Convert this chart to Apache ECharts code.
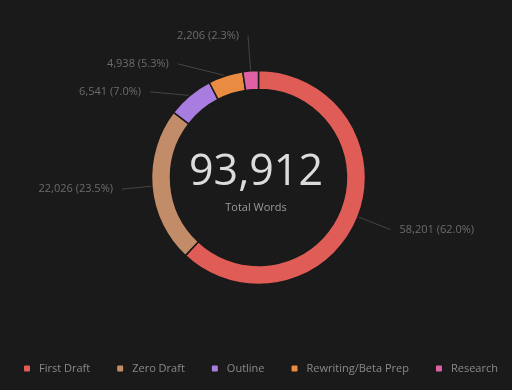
<!DOCTYPE html>
<html><head><meta charset="utf-8">
<script src="https://cdn.jsdelivr.net/npm/echarts@6/dist/echarts.min.js"></script>
<style>html,body{margin:0;padding:0;background:#1a1a1a;}#c{width:512px;height:390px;}</style>
</head><body><div id="c"></div>
<script>
const categories = ["First Draft", "Zero Draft", "Outline", "Rewriting/Beta Prep", "Research"];
const values = [58201, 22026, 6541, 4938, 2206];
const colors = ["#e05c57", "#c28c68", "#a97ddf", "#ea8b42", "#e060a6"];
const totalLabel = "93,912";
const subLabel = "Total Words";
const total = values.reduce((a, b) => a + b, 0);
const chart = echarts.init(document.getElementById('c'));
chart.setOption({
  backgroundColor: '#1a1a1a',
  color: colors,
  graphic: [
    {type: 'text', left: 'center', top: 151, style: {text: totalLabel, fill: '#dcdcdc', fontSize: 43, fontWeight: 500, fontFamily: 'Open Sans'}},
    {type: 'text', left: 'center', top: 202, style: {text: subLabel, fill: '#9a9a9a', fontSize: 11, fontFamily: 'Open Sans'}}
  ],
  legend: {
    bottom: 11, left: 17, itemWidth: 8, itemHeight: 8, itemGap: 25, icon: 'roundRect',
    textStyle: {color: '#8a8a8a', fontSize: 11, fontFamily: 'Open Sans', padding: [0, 0, 0, 3]},
    data: categories
  },
  series: [{
    type: 'pie', radius: [88, 107], center: [258.5, 177.5], startAngle: 90,
    avoidLabelOverlap: true,
    itemStyle: {borderColor: '#1a1a1a', borderWidth: 1.5},
    label: {
      color: '#6c6c6c', fontSize: 11, fontFamily: 'Open Sans', lineHeight: 26, padding: [0, 4, 0, 4],
      formatter: p => p.value.toLocaleString('en-US') + ' (' + (p.value / total * 100).toFixed(1) + '%)'
    },
    labelLine: {length: 35, length2: 0, lineStyle: {color: '#444', width: 1}},
    data: categories.map((n, i) => ({name: n, value: values[i]}))
  }]
});
</script></body></html>
